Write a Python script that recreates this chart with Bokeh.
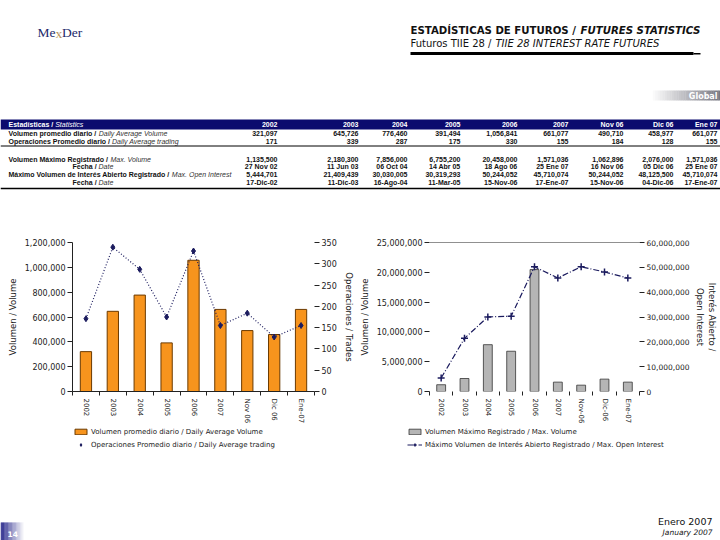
import numpy as np
from bokeh.plotting import figure
from bokeh.models import (Range1d, LinearAxis, FixedTicker, NumeralTickFormatter,
                          Legend, LegendItem, Span)
from bokeh.layouts import column, row
from bokeh.embed import file_html
from bokeh.resources import INLINE
from bokeh.core.properties import value

# ---------------- data ----------------
periods = ["2002", "2003", "2004", "2005", "2006", "2007", "Nov 06", "Dic 06", "Ene 07"]
left_labels = ["2002", "2003", "2004", "2005", "2006", "2007", "Nov 06", "Dic 06", "Ene-07"]
right_labels = ["2002", "2003", "2004", "2005", "2006", "2007", "Nov-06", "Dic-06", "Ene-07"]
daily_avg_volume = [321097, 645726, 776460, 391494, 1056841, 661077, 490710, 458977, 661077]
daily_avg_trades = [171, 339, 287, 175, 330, 155, 184, 128, 155]
max_volume = [1135500, 2180300, 7856000, 6755200, 20458000, 1571036, 1062896, 2076000, 1571036]
max_volume_date = ["27 Nov 02", "11 Jun 03", "06 Oct 04", "14 Abr 05", "18 Ago 06",
                   "25 Ene 07", "16 Nov 06", "05 Dic 06", "25 Ene 07"]
max_open_interest = [5444701, 21409439, 30030005, 30319293, 50244052, 45710074,
                     50244052, 48125500, 45710074]
max_oi_date = ["17-Dic-02", "11-Dic-03", "16-Ago-04", "11-Mar-05", "15-Nov-06",
               "17-Ene-07", "15-Nov-06", "04-Dic-06", "17-Ene-07"]

row_labels_es = ["Volumen promedio diario / ", "Operaciones Promedio diario / ",
                 "Volumen Máximo Registrado / ", "Fecha / ",
                 "Máximo Volumen de Interés Abierto Registrado / ", "Fecha / "]
row_labels_en = ["Daily Average Volume", "Daily Average trading", "Max. Volume", "Date",
                 "Max. Open Interest", "Date"]

legend_left = ["Volumen promedio diario / Daily Average Volume",
               "Operaciones Promedio diario / Daily Average trading"]
legend_right = ["Volumen Máximo Registrado / Max. Volume",
                "Máximo Volumen de Interés Abierto Registrado / Max. Open Interest"]

NAVY = "#0b0b6e"
ORANGE = "#F7941D"
ORANGE_EDGE = "#6b3a00"
GREY = "#b5b5b5"
GREY_EDGE = "#333333"
LINE = "#1b1b5e"

# ---------------- text width helper (Arial / Liberation Sans Bold metrics) ----------------
_AB = dict(zip("abcdefghijklmnopqrstuvwxyz",
               [556, 611, 556, 611, 556, 333, 611, 611, 278, 278, 556, 278, 889, 611, 611, 611,
                611, 389, 556, 333, 611, 556, 778, 556, 556, 500]))
_AB.update(dict(zip("ABCDEFGHIJKLMNOPQRSTUVWXYZ",
                    [722, 722, 722, 722, 667, 611, 778, 722, 278, 556, 722, 611, 833, 722, 778,
                     667, 778, 722, 667, 611, 722, 667, 944, 667, 667, 611])))
_AB.update({" ": 278, "/": 278, ".": 278, ",": 278, "-": 333})
_ACC = {"á": "a", "é": "e", "í": "i", "ó": "o", "Í": "I", "Á": "A"}


def tw_bold(s, size):
    return sum(_AB.get(_ACC.get(c, c), 556) for c in s) / 1000.0 * size


def canvas(w, h, top, bottom):
    p = figure(width=w, height=h, x_range=Range1d(0, w), y_range=Range1d(bottom, top),
               x_axis_type=None, y_axis_type=None, output_backend="svg",
               toolbar_location=None, min_border=0)
    p.outline_line_color = None
    return p


def txt(p, x, y, s, size, font="Liberation Sans", style="normal", color="#111111",
        align="left", baseline="middle"):
    p.text(x=[x], y=[y], text=[s], text_font=value(font), text_font_size=value(f"{size}px"),
           text_font_style=style, text_color=color, text_align=align, text_baseline=baseline)


def gradient(p, x0, x1, y0, y1, c0, c1, n=30):
    edges = np.linspace(x0, x1, n + 1)
    cols = []
    for t in np.linspace(0, 1, n):
        r = int(c0[0] + (c1[0] - c0[0]) * t)
        g = int(c0[1] + (c1[1] - c0[1]) * t)
        b = int(c0[2] + (c1[2] - c0[2]) * t)
        cols.append("#%02x%02x%02x" % (r, g, b))
    p.quad(left=edges[:-1], right=edges[1:] + 0.3, top=[y0] * n, bottom=[y1] * n,
           fill_color=cols, line_color=None)


# ---------------- header / table canvas ----------------
hdr = canvas(720, 228, 0, 228)

# logo
txt(hdr, 37, 32, "Me", 13.5, "Liberation Serif", color="#1c2a6b")
txt(hdr, 55, 33, "x", 13.5, "Liberation Serif", color="#b8955a")
txt(hdr, 61.5, 32, "Der", 13.5, "Liberation Serif", color="#1c2a6b")

# titles
txt(hdr, 410, 30, "ESTADÍSTICAS DE FUTUROS / ", 10.2, "DejaVu Sans", "bold", "#111111")
txt(hdr, 410 + 16.662 * 10.2, 30, "FUTURES STATISTICS", 10.2, "DejaVu Sans", "bold italic", "#111111")
txt(hdr, 410, 43, "Futuros TIIE 28 / ", 10, "DejaVu Sans", "normal", "#111111")
txt(hdr, 410 + 8.493 * 10, 43, "TIIE 28 INTEREST RATE FUTURES", 10, "DejaVu Sans", "italic", "#111111")
hdr.quad(left=[410], right=[693], top=[51.5], bottom=[54.5], fill_color="#000000", line_color=None)
hdr.quad(left=[693], right=[700], top=[52.5], bottom=[54], fill_color="#000000", line_color=None)

# "Global" tab
gradient(hdr, 650, 720, 90, 100, (255, 255, 255), (120, 120, 130))
txt(hdr, 717, 95.5, "Global", 8, "DejaVu Sans", "bold", "#ffffff", align="right")

# table
col_right = [277, 358, 407, 460, 517, 568, 623, 673, 717]
y_head = 124
y_rows = [132.5, 140.5, 158.5, 166, 174, 181.5]
hdr.quad(left=[0], right=[720], top=[119], bottom=[129], fill_color=NAVY, line_color=None)
txt(hdr, 8, y_head, "Estadísticas / ", 7, style="bold", color="#ffffff")
txt(hdr, 8 + tw_bold("Estadísticas / ", 7), y_head, "Statistics", 7, style="italic", color="#ffffff")
hdr.text(x=col_right, y=[y_head] * 9, text=periods, text_font=value("Liberation Sans"),
         text_font_size=value("7px"), text_font_style="bold", text_color="#ffffff",
         text_align="right", text_baseline="middle")

label_x = [8, 8, 8, 72, 8, 72]
for es, en, lx, yy in zip(row_labels_es, row_labels_en, label_x, y_rows):
    txt(hdr, lx, yy, es, 7, style="bold", color="#111111")
    txt(hdr, lx + tw_bold(es, 7), yy, en, 7, style="italic", color="#333333")

table_rows = [[f"{v:,}" for v in daily_avg_volume],
              [f"{v:,}" for v in daily_avg_trades],
              [f"{v:,}" for v in max_volume],
              max_volume_date,
              [f"{v:,}" for v in max_open_interest],
              max_oi_date]
for vals, yy in zip(table_rows, y_rows):
    hdr.text(x=col_right, y=[yy] * 9, text=vals, text_font=value("Liberation Sans"),
             text_font_size=value("7px"), text_font_style="bold", text_color="#111111",
             text_align="right", text_baseline="middle")

hdr.segment(x0=[0], x1=[720], y0=[145.5], y1=[145.5], line_color="#000000", line_width=1)
hdr.segment(x0=[0], x1=[720], y0=[188], y1=[188], line_color="#000000", line_width=1.5)


# ---------------- chart helpers ----------------
def style_axis(ax, size="8px"):
    ax.major_label_text_font = "DejaVu Sans"
    ax.major_label_text_font_size = size
    ax.major_label_text_color = "#222222"
    ax.axis_label_text_font = "DejaVu Sans"
    ax.axis_label_text_font_size = "8.5px"
    ax.axis_label_text_font_style = "normal"
    ax.axis_label_text_color = "#222222"
    ax.major_tick_in = 0
    ax.major_tick_out = 5
    ax.minor_tick_in = 0
    ax.minor_tick_out = 0
    ax.major_label_standoff = 2
    ax.axis_label_standoff = 4
    ax.major_tick_line_color = "#222222"


def x_axis(labels, orientation):
    xs = [i + 0.5 for i in range(len(labels))]
    ax = LinearAxis(ticker=FixedTicker(ticks=xs, minor_ticks=list(range(len(labels) + 1))),
                    major_label_overrides={x: lab for x, lab in zip(xs, labels)})
    style_axis(ax, "7px")
    ax.major_tick_out = 0
    ax.minor_tick_out = 4
    ax.minor_tick_line_color = "#222222"
    ax.major_label_orientation = orientation
    ax.major_label_standoff = 3
    return ax


def legend_fig(width, items, loc):
    """A small strip below a chart holding that chart's legend."""
    lf = figure(width=width, height=26, x_range=Range1d(0, len(periods)), y_range=Range1d(0, 1),
                x_axis_type=None, y_axis_type=None, output_backend="svg",
                toolbar_location=None, min_border=0)
    lf.outline_line_color = None
    lg = Legend(items=items(lf), location=loc)
    lg.label_text_font = "DejaVu Sans"
    lg.label_text_font_size = "7px"
    lg.label_text_color = "#222222"
    lg.glyph_height = 7
    lg.glyph_width = 15
    lg.label_height = 9
    lg.label_standoff = 3
    lg.spacing = 4
    lg.padding = 0
    lg.margin = 0
    lg.border_line_color = None
    lg.background_fill_alpha = 0
    lg.orientation = "vertical"
    lf.add_layout(lg)
    return lf


xs = np.arange(len(periods)) + 0.5
blank = [np.nan] * len(periods)   # legend proxies: same styling, nothing drawn
CH = 198  # chart figure height

# ---------------- left chart ----------------
pl = figure(width=356, height=CH, x_range=Range1d(0, len(periods)),
            y_range=Range1d(0, 1200000), x_axis_type=None, y_axis_type=None,
            output_backend="svg", toolbar_location=None,
            min_border_left=72, min_border_right=38, min_border_top=14, min_border_bottom=9)
pl.outline_line_color = None
pl.extra_y_ranges = {"ops": Range1d(0, 350)}

axl = LinearAxis(ticker=FixedTicker(ticks=list(range(0, 1200001, 200000))),
                 formatter=NumeralTickFormatter(format="0,0"), axis_label="Volumen / Volume")
style_axis(axl)
axl.axis_line_color = "#222222"
pl.add_layout(axl, "left")

axr = LinearAxis(y_range_name="ops", ticker=FixedTicker(ticks=list(range(0, 351, 50))),
                 axis_label="Operaciones / Trades")
style_axis(axr)
axr.axis_line_color = None
pl.add_layout(axr, "right")

axb = x_axis(left_labels, -np.pi / 2)
axb.axis_line_color = "#222222"
pl.add_layout(axb, "below")

pl.vbar(x=xs, top=daily_avg_volume, width=0.42, fill_color=ORANGE,
        line_color=ORANGE_EDGE, line_width=1)
pl.line(xs, daily_avg_trades, y_range_name="ops", line_dash="1 2", line_color=LINE,
        line_width=1.2)
pl.scatter(xs, daily_avg_trades, y_range_name="ops", marker="diamond", size=6,
           fill_color=LINE, line_color=LINE)

# ---------------- right chart ----------------
pr = figure(width=364, height=CH, x_range=Range1d(0, len(periods)),
            y_range=Range1d(0, 25000000), x_axis_type=None, y_axis_type=None,
            output_backend="svg", toolbar_location=None,
            min_border_left=71, min_border_right=75, min_border_top=14, min_border_bottom=9)
pr.outline_line_color = None
pr.extra_y_ranges = {"oi": Range1d(0, 60000000)}

ayl = LinearAxis(ticker=FixedTicker(ticks=list(range(0, 25000001, 5000000))),
                 formatter=NumeralTickFormatter(format="0,0"), axis_label="Volumen / Volume")
style_axis(ayl)
ayl.axis_line_color = None
pr.add_layout(ayl, "left")

ayr = LinearAxis(y_range_name="oi", ticker=FixedTicker(ticks=list(range(0, 60000001, 10000000))),
                 formatter=NumeralTickFormatter(format="0,0"),
                 axis_label="Interés Abierto /\nOpen Interest")
style_axis(ayr, "7.5px")
ayr.axis_line_color = None
ayr.axis_label_standoff = 3
pr.add_layout(ayr, "right")

axb2 = x_axis(right_labels, "vertical")
axb2.axis_line_color = None
pr.add_layout(axb2, "below")

pr.add_layout(Span(location=25000000, dimension="width", line_color="#222222", line_width=1))

pr.vbar(x=xs, top=max_volume, width=0.38, fill_color=GREY, line_color=GREY_EDGE,
        line_width=0.8)
pr.line(xs, max_open_interest, y_range_name="oi", line_dash="6 2 1 2",
        line_color=LINE, line_width=1.2)
pr.scatter(xs, max_open_interest, y_range_name="oi", marker="cross", size=7,
           line_color=LINE, line_width=1.5)


# ---------------- legends (strip below each chart) ----------------
def left_items(lf):
    b = lf.vbar(x=xs, top=blank, width=0.42, fill_color=ORANGE,
                line_color=ORANGE_EDGE, line_width=1)
    s = lf.scatter(x=xs, y=blank, marker="diamond", size=6,
                   fill_color=LINE, line_color=LINE)
    return [LegendItem(label=legend_left[0], renderers=[b]),
            LegendItem(label=legend_left[1], renderers=[s])]


def right_items(lf):
    b = lf.vbar(x=xs, top=blank, width=0.38, fill_color=GREY,
                line_color=GREY_EDGE, line_width=0.8)
    ln = lf.line(x=xs, y=blank, line_dash="6 2 1 2", line_color=LINE, line_width=1.2)
    s = lf.scatter(x=xs, y=blank, marker="cross", size=7, line_color=LINE, line_width=1.5)
    return [LegendItem(label=legend_right[0], renderers=[b]),
            LegendItem(label=legend_right[1], renderers=[ln, s])]


legL = legend_fig(356, left_items, (73, 3))
legR = legend_fig(364, right_items, (51, 3))

# ---------------- footer ----------------
ftr = canvas(720, 88, 452, 540)
txt(ftr, 712, 521, "Enero 2007", 9.5, "DejaVu Sans", "normal", "#111111", align="right")
txt(ftr, 712, 532, "January 2007", 7.5, "DejaVu Sans", "italic", "#111111", align="right")
gradient(ftr, 0, 24, 522, 540, (40, 40, 140), (255, 255, 255))
txt(ftr, 7, 533, "14", 7.5, "DejaVu Sans", "bold", "#ffffff")

page = column(hdr, row(pl, pr), row(legL, legR), ftr)
open("out.html", "w").write(file_html(page, INLINE))
